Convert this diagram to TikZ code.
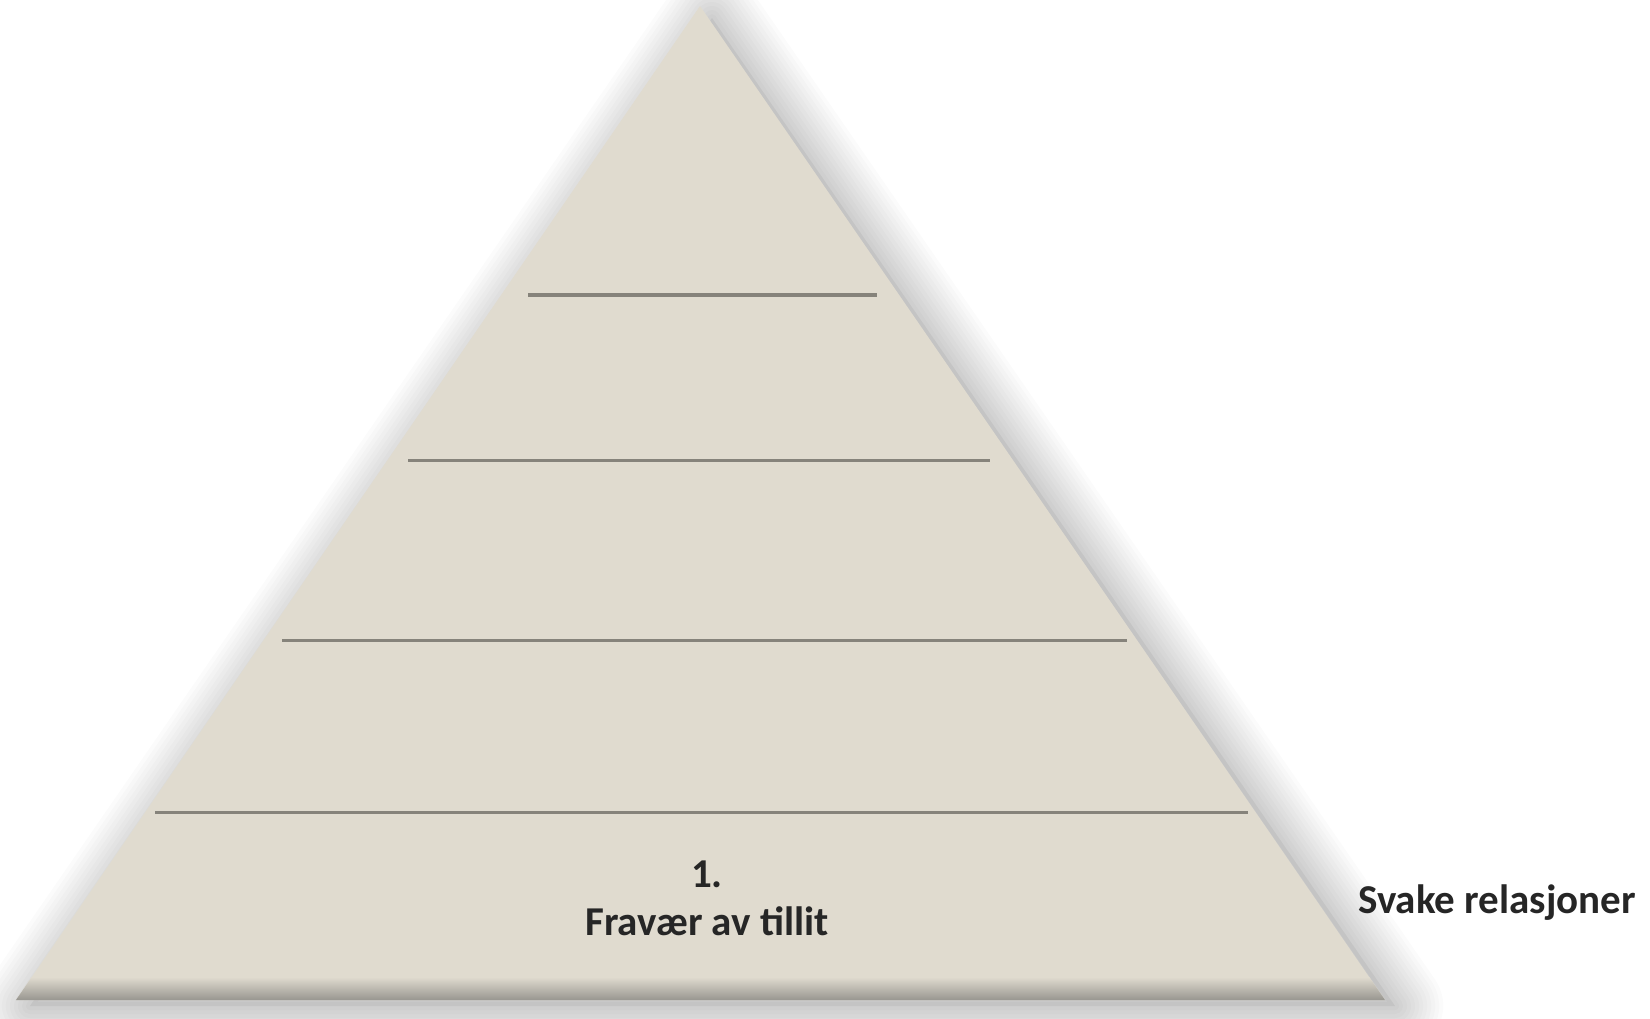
\documentclass[tikz,border=0pt]{standalone}
\usepackage{fontspec}
\setmainfont{Carlito}
\definecolor{pyr}{HTML}{E0DBCF}
\definecolor{pyrdark}{HTML}{989690}
\definecolor{sep}{HTML}{86837B}
\definecolor{ink}{HTML}{262626}
\tikzset{
  seprule/.style={draw=sep, line width=3pt},
  lab/.style={inner sep=0pt, text=ink, font=\fontsize{41}{49}\selectfont\bfseries},
}
\begin{document}
\begin{tikzpicture}[x=1pt,y=-1pt]
\useasboundingbox[fill=white] (0,0) rectangle (1650,1019);
\coordinate (apex) at (700,6);
\coordinate (bl) at (16,1000);
\coordinate (br) at (1385,1000);
% soft shadow, right and below
\begin{scope}
  \clip (700,-200) -- (-300,1250) -- (1650,1250) -- (1650,-200) -- cycle;
  \foreach \w in {96,88,...,8}
    \draw[black, opacity=0.016, line width=\w pt, line join=round]
      (712,18) -- (1395,1006) -- (30,1006) -- cycle;
  \fill[black, opacity=0.05] (712,18) -- (1395,1006) -- (30,1006) -- cycle;
\end{scope}
% pyramid body
\fill[pyr] (apex) -- (br) -- (bl) -- cycle;
\begin{scope}
  \clip (apex) -- (br) -- (bl) -- cycle;
  \shade[top color=pyr, bottom color=pyrdark] (0,977) rectangle (1650,1000);
\end{scope}
% level separators
\draw[seprule] (528,295) -- (877,295);
\draw[seprule] (408,460) -- (990,460);
\draw[seprule] (282,640) -- (1127,640);
\draw[seprule] (155,812) -- (1248,812);
% labels
\node[lab, anchor=base] (n1) at (707,887) {1.};
\node[lab, anchor=base] (n2) at (707,935) {Fravær av tillit};
\node[lab, anchor=base west] (side) at (1358,913) {Svake relasjoner};
\end{tikzpicture}
\end{document}
